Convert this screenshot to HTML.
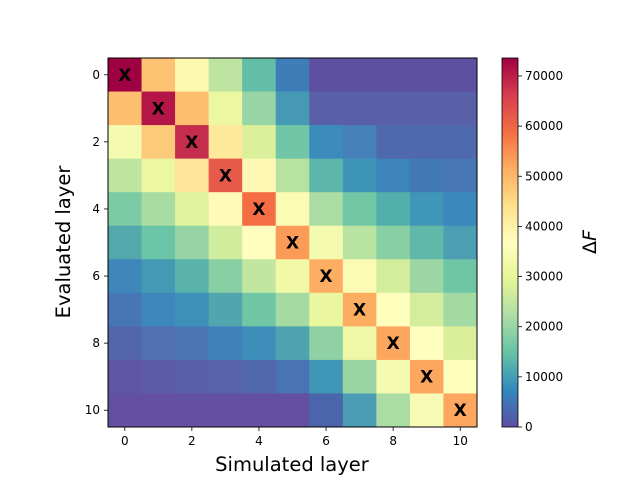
<!DOCTYPE html>
<html><head><meta charset="utf-8"><style>body{margin:0;background:#fff}svg{display:block}text{font-family:"DejaVu Sans","Liberation Sans",sans-serif}</style></head>
<body>
<svg width="640" height="480" viewBox="0 0 640 480" xmlns="http://www.w3.org/2000/svg">
<defs>
<linearGradient id="cb" x1="0" y1="1" x2="0" y2="0">
<stop offset="0" stop-color="#5e4fa2"/><stop offset="0.1" stop-color="#3288bd"/><stop offset="0.2" stop-color="#66c2a5"/><stop offset="0.3" stop-color="#abdda4"/><stop offset="0.4" stop-color="#e6f598"/><stop offset="0.5" stop-color="#ffffbf"/><stop offset="0.6" stop-color="#fee08b"/><stop offset="0.7" stop-color="#fdae61"/><stop offset="0.8" stop-color="#f46d43"/><stop offset="0.9" stop-color="#d53e4f"/><stop offset="1" stop-color="#9e0142"/>
</linearGradient>
</defs>
<g id="cells"></g>
<rect x="108" y="58" width="369" height="369" fill="none" stroke="#000" stroke-width="1"/>
<rect x="502" y="58" width="16" height="369" fill="url(#cb)" stroke="#000" stroke-width="0.8"/>
<g id="ticks" stroke="#000" stroke-width="0.8"></g>
<g id="labels" font-size="12" fill="#000"></g>
<text x="292" y="471" font-size="19.5" text-anchor="middle">Simulated layer</text>
<text transform="translate(70,242) rotate(-90)" font-size="19.5" text-anchor="middle">Evaluated layer</text>
<text transform="translate(596,242) rotate(-90)" font-size="19" text-anchor="middle">Δ<tspan font-style="italic">F</tspan></text>
<script>
var C=[
["#9e0142","#fdc272","#fbf9b0","#bde4a0","#62bea6","#3f7db8","#5e50a1","#5e50a1","#5e50a1","#5e50a1","#5e50a1"],
["#fdbf6f","#b41747","#fdbf6f","#ecf7a2","#98d5a4","#4599b4","#5a60a8","#5a60a8","#5a60a8","#5a60a8","#5a60a8"],
["#f4faaf","#fdca79","#c62c4b","#fee89a","#dcf09b","#70c6a6","#3b8bbc","#4680b8","#5068ad","#5068ad","#5068ad"],
["#bee5a0","#ecf7a1","#fee59a","#e75a4a","#fff8b5","#b8e2a0","#5cb6a9","#3f95b8","#3d84bc","#4278b6","#4777b5"],
["#7bcba4","#a9dca3","#e0f29b","#fffab9","#f46d43","#fbfbb5","#aadca3","#72c7a5","#53afab","#3f96b7","#3b88bc"],
["#53a8ac","#6ac4a6","#95d3a4","#d0ec9d","#fefebe","#fa9b58","#f4faae","#b8e3a0","#88cfa4","#60b9a8","#4c9fb2"],
["#3f86bb","#4499b4","#59b3aa","#88cfa4","#c0e6a0","#f1f9a8","#fdae62","#fbfbb5","#d2ed9c","#9cd6a4","#6fc6a5"],
["#4676b6","#3e87bc","#3d91b9","#50a5af","#70c6a5","#a5daa3","#eaf79f","#fdad60","#fefebd","#d3ed9c","#a3d9a3"],
["#5466ab","#5070b1","#4b77b4","#3f82bb","#3d8fba","#4da3b0","#90d1a4","#eff8a6","#fca65e","#fefebe","#dbef9a"],
["#5f56a5","#5d5aa6","#5a60a8","#5863a9","#5268ad","#4874b5","#3f96b7","#9ad5a4","#f4faaf","#fca65e","#fefebd"],
["#6350a1","#6350a1","#6350a1","#6350a1","#6350a1","#6350a1","#4b65ad","#4a9db4","#abdca3","#f8fbb5","#fca65f"]];
var ns="http://www.w3.org/2000/svg",s=369/11,g=document.getElementById("cells"),t=document.getElementById("ticks"),l=document.getElementById("labels");
function el(n,a,p,txt){var e=document.createElementNS(ns,n);for(var k in a)e.setAttribute(k,a[k]);if(txt!=null)e.textContent=txt;p.appendChild(e);return e;}
for(var r=0;r<11;r++)for(var c=0;c<11;c++){el("rect",{x:108+c*s,y:58+r*s,width:s+0.5,height:s+0.5,fill:C[r][c]},g);
if(r==c)el("text",{x:108+(c+0.5)*s,y:58+(r+0.5)*s+6,"font-size":17,"font-weight":"bold","text-anchor":"middle"},g,"X");}
for(var i=0;i<=10;i+=2){var p=108+(i+0.5)*s;
el("line",{x1:p,y1:427,x2:p,y2:431},t);el("text",{x:p,y:445,"text-anchor":"middle"},l,i);
var q=58+(i+0.5)*s;el("line",{x1:104,y1:q,x2:108,y2:q},t);el("text",{x:100,y:q+4,"text-anchor":"end"},l,i);}
for(var v=0;v<=7;v++){var y=427-v*50.15;el("line",{x1:518,y1:y,x2:522,y2:y},t);el("text",{x:525,y:y+4},l,v*10000);}
</script>
</svg>
</body></html>
